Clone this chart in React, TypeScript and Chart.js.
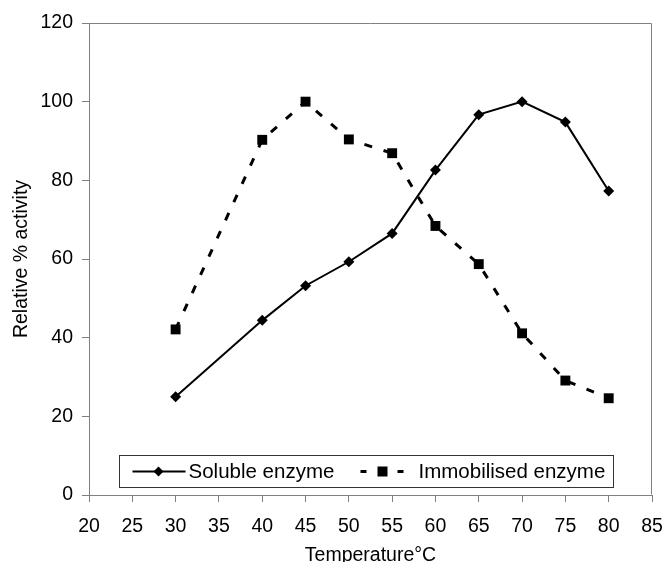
import React, { useEffect, useRef } from 'react';
import { Chart, registerables } from 'chart.js';

Chart.register(...registerables);

const temperatures = [30, 40, 45, 50, 55, 60, 65, 70, 75, 80];
const solubleActivity = [25, 44.4, 53.2, 59.3, 66.5, 82.6, 96.7, 100, 94.8, 77.3];
const immobilisedActivity = [42.1, 90.3, 100, 90.4, 86.9, 68.4, 58.7, 41.1, 29.1, 24.6];
const seriesLabels = ['Soluble enzyme', 'Immobilised enzyme'];
const xTitle = 'Temperature°C';
const yTitle = 'Relative % activity';

const FONT = '"Liberation Sans", Arial, sans-serif';
const AXIS_GRAY = '#808080';

const boxPlugin = {
  id: 'plotBox',
  afterDraw(chart: any) {
    const { ctx, chartArea } = chart;
    const l = Math.round(chartArea.left) + 0.5;
    const t = Math.round(chartArea.top) + 0.5;
    const r = Math.round(chartArea.right) - 0.5;
    const b = Math.round(chartArea.bottom) - 0.5;
    ctx.save();
    ctx.strokeStyle = AXIS_GRAY;
    ctx.lineWidth = 1;
    ctx.beginPath();
    ctx.moveTo(l, t);
    ctx.lineTo(r, t);
    ctx.lineTo(r, b);
    ctx.stroke();
    ctx.restore();
  },
};

const legendPlugin = {
  id: 'boxLegend',
  afterDraw(chart: any) {
    const { ctx, chartArea } = chart;
    const left = Math.round(chartArea.left) + 30 + 0.5;
    const top = Math.round(chartArea.bottom) - 40 + 0.5;
    const w = 494;
    const h = 32;
    const cy = top + 16;
    ctx.save();
    ctx.fillStyle = '#fff';
    ctx.fillRect(left, top, w, h);
    ctx.strokeStyle = '#333';
    ctx.lineWidth = 1;
    ctx.strokeRect(left, top, w, h);

    // Soluble sample
    ctx.strokeStyle = '#000';
    ctx.lineWidth = 2;
    ctx.beginPath();
    ctx.moveTo(left + 13, cy);
    ctx.lineTo(left + 66, cy);
    ctx.stroke();
    ctx.fillStyle = '#000';
    const dx = left + 39;
    ctx.beginPath();
    ctx.moveTo(dx, cy - 5);
    ctx.lineTo(dx + 5, cy);
    ctx.lineTo(dx, cy + 5);
    ctx.lineTo(dx - 5, cy);
    ctx.closePath();
    ctx.fill();

    // Immobilised sample
    ctx.lineWidth = 3;
    ctx.beginPath();
    ctx.moveTo(left + 241, cy);
    ctx.lineTo(left + 247, cy);
    ctx.moveTo(left + 278, cy);
    ctx.lineTo(left + 284, cy);
    ctx.stroke();
    ctx.fillRect(left + 258, cy - 5, 10, 10);

    ctx.font = '20.5px ' + FONT;
    ctx.textBaseline = 'middle';
    ctx.textAlign = 'left';
    ctx.fillText(chart.data.datasets[0].label, left + 69, cy + 1);
    ctx.fillText(chart.data.datasets[1].label, left + 299, cy + 1);
    ctx.restore();
  },
};

export default function App() {
  const canvasRef = useRef<HTMLCanvasElement | null>(null);

  useEffect(() => {
    if (!canvasRef.current) return;
    const tickFont = { family: FONT, size: 19.5 };
    const chart = new Chart(canvasRef.current, {
      type: 'line',
      data: {
        datasets: [
          {
            label: seriesLabels[0],
            data: temperatures.map((t, i) => ({ x: t, y: solubleActivity[i] })),
            borderColor: '#000',
            backgroundColor: '#000',
            borderWidth: 2,
            pointStyle: 'rectRot',
            pointRadius: 5.5,
            pointBorderWidth: 0,
            pointBackgroundColor: '#000',
            tension: 0,
          },
          {
            label: seriesLabels[1],
            data: temperatures.map((t, i) => ({ x: t, y: immobilisedActivity[i] })),
            borderColor: '#000',
            backgroundColor: '#000',
            borderWidth: 3,
            borderDash: [8, 12],
            pointStyle: 'rect',
            pointRadius: 7,
            pointBorderWidth: 0,
            pointBackgroundColor: '#000',
            tension: 0,
          },
        ],
      },
      options: {
        responsive: false,
        animation: false,
        devicePixelRatio: 1,
        layout: { padding: { left: 0, right: 12, top: 23, bottom: 0 } },
        plugins: {
          legend: { display: false },
          tooltip: { enabled: false },
        },
        scales: {
          x: {
            type: 'linear',
            min: 20,
            max: 85,
            ticks: { stepSize: 5, font: tickFont, color: '#000', padding: 13, maxRotation: 0 },
            grid: { drawOnChartArea: false, drawTicks: true, tickLength: 7, color: AXIS_GRAY },
            border: { color: AXIS_GRAY, width: 1 },
            title: {
              display: true,
              text: xTitle,
              color: '#000',
              font: { family: FONT, size: 19.5 },
              padding: { top: 0, bottom: 1 },
            },
            afterFit: (s: any) => {
              s.height = 73;
              s.paddingLeft = 0;
              s.paddingRight = 0;
            },
          },
          y: {
            type: 'linear',
            min: 0,
            max: 120,
            ticks: { stepSize: 20, font: tickFont, color: '#000', padding: 9 },
            grid: { drawOnChartArea: false, drawTicks: true, tickLength: 7, color: AXIS_GRAY },
            border: { color: AXIS_GRAY, width: 1 },
            title: {
              display: true,
              text: yTitle,
              color: '#000',
              font: { family: FONT, size: 19.5 },
              padding: { top: 10, bottom: 0 },
            },
            afterFit: (s: any) => {
              s.width = 89;
              s.paddingTop = 0;
              s.paddingBottom = 0;
            },
          },
        },
      },
      plugins: [boxPlugin, legendPlugin],
    });
    return () => chart.destroy();
  }, []);

  return (
    <div
      style={{
        position: 'fixed',
        left: 0,
        top: 0,
        width: 664,
        height: 562,
        overflow: 'hidden',
        background: '#fff',
      }}
    >
      <canvas ref={canvasRef} width={664} height={568} style={{ display: 'block' }} />
    </div>
  );
}
